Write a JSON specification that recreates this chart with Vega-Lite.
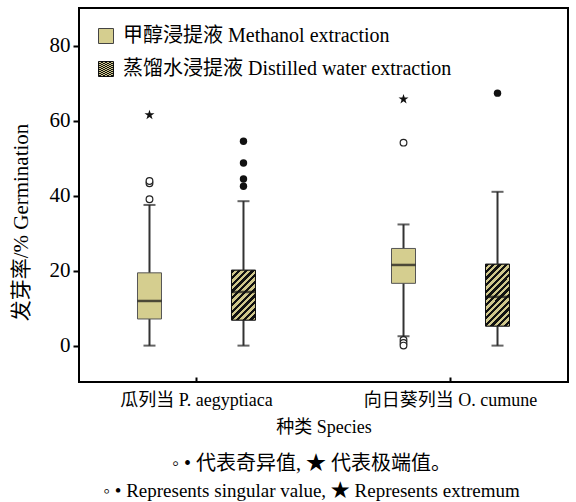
{
  "$schema": "https://vega.github.io/schema/vega-lite/v6.json",
  "width": 489,
  "height": 374,
  "autosize": {"type": "none"},
  "padding": {"left": 79, "top": 8, "right": 8, "bottom": 120},
  "background": "white",
  "config": {
    "view": {"stroke": "black", "strokeWidth": 2},
    "font": "Liberation Serif, Noto Sans CJK SC",
    "axis": {"domain": false, "grid": false, "labelColor": "black", "titleColor": "black", "tickColor": "black", "tickWidth": 2, "titleFontWeight": "normal"},
    "legend": {"orient": "none", "padding": 0, "title": null, "symbolType": "square", "symbolSize": 225, "symbolStrokeWidth": 1, "labelFontSize": 20, "labelColor": "black", "labelLimit": 500, "labelOffset": 7}
  },
  "title": {
    "text": "◦ • 代表奇异值, ★ 代表极端值。",
    "subtitle": "◦ • Represents singular value, ★ Represents extremum",
    "orient": "bottom",
    "anchor": "middle",
    "fontSize": 20,
    "fontWeight": "normal",
    "subtitleFontSize": 19,
    "subtitleFont": "Liberation Serif, Noto Sans CJK SC",
    "color": "black",
    "subtitleColor": "black",
    "offset": 18,
    "subtitlePadding": 8,
    "dx": -12
  },
  "datasets": {
    "stats": [
      {"species": "瓜列当 P. aegyptiaca", "treatment": "甲醇浸提液 Methanol extraction", "lower": 0, "q1": 7.1, "median": 11.9, "q3": 19.4, "upper": 37.5},
      {"species": "瓜列当 P. aegyptiaca", "treatment": "蒸馏水浸提液 Distilled water extraction", "lower": 0, "q1": 6.8, "median": 14.3, "q3": 20.1, "upper": 38.5},
      {"species": "向日葵列当 O. cumune", "treatment": "甲醇浸提液 Methanol extraction", "lower": 2.5, "q1": 16.6, "median": 21.5, "q3": 25.9, "upper": 32.3},
      {"species": "向日葵列当 O. cumune", "treatment": "蒸馏水浸提液 Distilled water extraction", "lower": 0, "q1": 5.2, "median": 13.0, "q3": 21.7, "upper": 41.0}
    ],
    "outliers": [
      {"species": "瓜列当 P. aegyptiaca", "treatment": "甲醇浸提液 Methanol extraction", "value": 39.0, "kind": "open"},
      {"species": "瓜列当 P. aegyptiaca", "treatment": "甲醇浸提液 Methanol extraction", "value": 43.3, "kind": "open"},
      {"species": "瓜列当 P. aegyptiaca", "treatment": "甲醇浸提液 Methanol extraction", "value": 43.9, "kind": "open"},
      {"species": "瓜列当 P. aegyptiaca", "treatment": "甲醇浸提液 Methanol extraction", "value": 61.5, "kind": "star"},
      {"species": "瓜列当 P. aegyptiaca", "treatment": "蒸馏水浸提液 Distilled water extraction", "value": 42.5, "kind": "filled"},
      {"species": "瓜列当 P. aegyptiaca", "treatment": "蒸馏水浸提液 Distilled water extraction", "value": 44.4, "kind": "filled"},
      {"species": "瓜列当 P. aegyptiaca", "treatment": "蒸馏水浸提液 Distilled water extraction", "value": 48.7, "kind": "filled"},
      {"species": "瓜列当 P. aegyptiaca", "treatment": "蒸馏水浸提液 Distilled water extraction", "value": 54.5, "kind": "filled"},
      {"species": "向日葵列当 O. cumune", "treatment": "甲醇浸提液 Methanol extraction", "value": 1.5, "kind": "open"},
      {"species": "向日葵列当 O. cumune", "treatment": "甲醇浸提液 Methanol extraction", "value": 0.7, "kind": "open"},
      {"species": "向日葵列当 O. cumune", "treatment": "甲醇浸提液 Methanol extraction", "value": 0.0, "kind": "open"},
      {"species": "向日葵列当 O. cumune", "treatment": "甲醇浸提液 Methanol extraction", "value": 54.1, "kind": "open"},
      {"species": "向日葵列当 O. cumune", "treatment": "甲醇浸提液 Methanol extraction", "value": 65.7, "kind": "star"},
      {"species": "向日葵列当 O. cumune", "treatment": "蒸馏水浸提液 Distilled water extraction", "value": 67.3, "kind": "filled"}
    ]
  },
  "encoding": {
    "x": {"field": "species", "type": "nominal", "sort": ["瓜列当 P. aegyptiaca", "向日葵列当 O. cumune"],
      "scale": {"type": "band", "paddingInner": 0.2, "paddingOuter": 0.0625},
      "axis": {"title": "种类 Species", "labelAngle": 0, "labelFontSize": 18, "titleFontSize": 18, "tickSize": -5, "tickWidth": 2, "labelPadding": 14, "titlePadding": 9, "labelLimit": 300}},
    "xOffset": {"field": "treatment", "type": "nominal", "sort": ["甲醇浸提液 Methanol extraction", "蒸馏水浸提液 Distilled water extraction"],
      "scale": {"type": "band", "paddingInner": 0, "paddingOuter": 0.081}}
  },
  "layer": [
    {
      "data": {"name": "stats"},
      "mark": {"type": "rule", "strokeWidth": 2, "color": "#333333"},
      "encoding": {
        "y": {"field": "lower", "type": "quantitative",
          "scale": {"domain": [-9.7, 90], "nice": false, "zero": false},
          "axis": {"title": "发芽率/% Germination", "values": [0, 20, 40, 60, 80], "labelFontSize": 21, "titleFontSize": 21, "tickSize": 6, "labelPadding": 3, "titleX": -48, "titleY": 214}},
        "y2": {"field": "upper"}
      }
    },
    {
      "data": {"name": "stats"},
      "mark": {"type": "bar", "size": 24, "stroke": "#555555", "strokeWidth": 1},
      "encoding": {
        "y": {"field": "q1", "type": "quantitative"},
        "y2": {"field": "q3"},
        "fill": {"field": "treatment", "type": "nominal",
          "scale": {"domain": ["甲醇浸提液 Methanol extraction", "蒸馏水浸提液 Distilled water extraction"], "range": ["#d5ce8f", "#111111"]},
          "legend": {"values": ["甲醇浸提液 Methanol extraction"], "legendX": 17, "legendY": 18, "symbolStrokeColor": "#444444"}
        }
      }
    },
    {
      "mark": {"type": "rule", "strokeDash": [3, 6], "color": "#444444", "strokeWidth": 1.5},
      "encoding": {"y": {"datum": 20}}
    },
    {
      "data": {"name": "stats"},
      "transform": [{"filter": "datum.species == '瓜列当 P. aegyptiaca' && datum.treatment == '蒸馏水浸提液 Distilled water extraction'"}],
      "mark": {"type": "bar", "size": 24, "strokeWidth": 1,
        "fill": {"gradient": "linear", "x1": 0, "y1": 0, "x2": 0.5785, "y2": 1.2027, "stops": [{"offset":0,"color":"#111111"},{"offset":0.0455,"color":"#111111"},{"offset":0.0455,"color":"#cfc78c"},{"offset":0.0909,"color":"#cfc78c"},{"offset":0.0909,"color":"#111111"},{"offset":0.1364,"color":"#111111"},{"offset":0.1364,"color":"#cfc78c"},{"offset":0.1818,"color":"#cfc78c"},{"offset":0.1818,"color":"#111111"},{"offset":0.2273,"color":"#111111"},{"offset":0.2273,"color":"#cfc78c"},{"offset":0.2727,"color":"#cfc78c"},{"offset":0.2727,"color":"#111111"},{"offset":0.3182,"color":"#111111"},{"offset":0.3182,"color":"#cfc78c"},{"offset":0.3636,"color":"#cfc78c"},{"offset":0.3636,"color":"#111111"},{"offset":0.4091,"color":"#111111"},{"offset":0.4091,"color":"#cfc78c"},{"offset":0.4545,"color":"#cfc78c"},{"offset":0.4545,"color":"#111111"},{"offset":0.5,"color":"#111111"},{"offset":0.5,"color":"#cfc78c"},{"offset":0.5455,"color":"#cfc78c"},{"offset":0.5455,"color":"#111111"},{"offset":0.5909,"color":"#111111"},{"offset":0.5909,"color":"#cfc78c"},{"offset":0.6364,"color":"#cfc78c"},{"offset":0.6364,"color":"#111111"},{"offset":0.6818,"color":"#111111"},{"offset":0.6818,"color":"#cfc78c"},{"offset":0.7273,"color":"#cfc78c"},{"offset":0.7273,"color":"#111111"},{"offset":0.7727,"color":"#111111"},{"offset":0.7727,"color":"#cfc78c"},{"offset":0.8182,"color":"#cfc78c"},{"offset":0.8182,"color":"#111111"},{"offset":0.8636,"color":"#111111"},{"offset":0.8636,"color":"#cfc78c"},{"offset":0.9091,"color":"#cfc78c"},{"offset":0.9091,"color":"#111111"},{"offset":0.9545,"color":"#111111"},{"offset":0.9545,"color":"#cfc78c"},{"offset":1,"color":"#cfc78c"}]}},
      "encoding": {
        "y": {"field": "q1", "type": "quantitative"},
        "y2": {"field": "q3"},
        "stroke": {"field": "treatment", "type": "nominal", "scale": {"range": ["#111111"]},
          "legend": {"legendX": 17, "legendY": 51, "symbolStrokeColor": "#111111",
            "encode": {"symbols": {"fill": {"value": {"gradient": "linear", "x1": 0, "y1": 0, "x2": 1, "y2": 1, "stops": [{"offset": 0, "color": "#111111"}, {"offset": 0.125, "color": "#111111"}, {"offset": 0.125, "color": "#cfc78c"}, {"offset": 0.25, "color": "#cfc78c"}, {"offset": 0.25, "color": "#111111"}, {"offset": 0.375, "color": "#111111"}, {"offset": 0.375, "color": "#cfc78c"}, {"offset": 0.5, "color": "#cfc78c"}, {"offset": 0.5, "color": "#111111"}, {"offset": 0.625, "color": "#111111"}, {"offset": 0.625, "color": "#cfc78c"}, {"offset": 0.75, "color": "#cfc78c"}, {"offset": 0.75, "color": "#111111"}, {"offset": 0.875, "color": "#111111"}, {"offset": 0.875, "color": "#cfc78c"}, {"offset": 1, "color": "#cfc78c"}]}}}}}
        }
      }
    },
    {
      "data": {"name": "stats"},
      "transform": [{"filter": "datum.species == '向日葵列当 O. cumune' && datum.treatment == '蒸馏水浸提液 Distilled water extraction'"}],
      "mark": {"type": "bar", "size": 24, "stroke": "#111111", "strokeWidth": 1,
        "fill": {"gradient": "linear", "x1": 0, "y1": 0, "x2": 0.4706, "y2": 1.2065, "stops": [{"offset":0,"color":"#111111"},{"offset":0.0385,"color":"#111111"},{"offset":0.0385,"color":"#cfc78c"},{"offset":0.0769,"color":"#cfc78c"},{"offset":0.0769,"color":"#111111"},{"offset":0.1154,"color":"#111111"},{"offset":0.1154,"color":"#cfc78c"},{"offset":0.1538,"color":"#cfc78c"},{"offset":0.1538,"color":"#111111"},{"offset":0.1923,"color":"#111111"},{"offset":0.1923,"color":"#cfc78c"},{"offset":0.2308,"color":"#cfc78c"},{"offset":0.2308,"color":"#111111"},{"offset":0.2692,"color":"#111111"},{"offset":0.2692,"color":"#cfc78c"},{"offset":0.3077,"color":"#cfc78c"},{"offset":0.3077,"color":"#111111"},{"offset":0.3462,"color":"#111111"},{"offset":0.3462,"color":"#cfc78c"},{"offset":0.3846,"color":"#cfc78c"},{"offset":0.3846,"color":"#111111"},{"offset":0.4231,"color":"#111111"},{"offset":0.4231,"color":"#cfc78c"},{"offset":0.4615,"color":"#cfc78c"},{"offset":0.4615,"color":"#111111"},{"offset":0.5,"color":"#111111"},{"offset":0.5,"color":"#cfc78c"},{"offset":0.5385,"color":"#cfc78c"},{"offset":0.5385,"color":"#111111"},{"offset":0.5769,"color":"#111111"},{"offset":0.5769,"color":"#cfc78c"},{"offset":0.6154,"color":"#cfc78c"},{"offset":0.6154,"color":"#111111"},{"offset":0.6538,"color":"#111111"},{"offset":0.6538,"color":"#cfc78c"},{"offset":0.6923,"color":"#cfc78c"},{"offset":0.6923,"color":"#111111"},{"offset":0.7308,"color":"#111111"},{"offset":0.7308,"color":"#cfc78c"},{"offset":0.7692,"color":"#cfc78c"},{"offset":0.7692,"color":"#111111"},{"offset":0.8077,"color":"#111111"},{"offset":0.8077,"color":"#cfc78c"},{"offset":0.8462,"color":"#cfc78c"},{"offset":0.8462,"color":"#111111"},{"offset":0.8846,"color":"#111111"},{"offset":0.8846,"color":"#cfc78c"},{"offset":0.9231,"color":"#cfc78c"},{"offset":0.9231,"color":"#111111"},{"offset":0.9615,"color":"#111111"},{"offset":0.9615,"color":"#cfc78c"},{"offset":1,"color":"#cfc78c"}]}},
      "encoding": {
        "y": {"field": "q1", "type": "quantitative"},
        "y2": {"field": "q3"}
      }
    },
    {
      "data": {"name": "stats"},
      "mark": {"type": "tick", "size": 24, "thickness": 2.5, "color": "#111111"},
      "encoding": {"y": {"field": "median", "type": "quantitative"}}
    },
    {
      "data": {"name": "stats"},
      "mark": {"type": "tick", "size": 12, "thickness": 2, "color": "#222222"},
      "encoding": {"y": {"field": "upper", "type": "quantitative"}}
    },
    {
      "data": {"name": "stats"},
      "mark": {"type": "tick", "size": 12, "thickness": 2, "color": "#222222"},
      "encoding": {"y": {"field": "lower", "type": "quantitative"}}
    },
    {
      "data": {"name": "outliers"},
      "transform": [{"filter": "datum.kind == 'open'"}],
      "mark": {"type": "point", "shape": "circle", "size": 45, "filled": false, "fill": "white", "fillOpacity": 1, "stroke": "#222222", "strokeWidth": 1.2, "opacity": 1},
      "encoding": {"y": {"field": "value", "type": "quantitative"}}
    },
    {
      "data": {"name": "outliers"},
      "transform": [{"filter": "datum.kind == 'filled'"}],
      "mark": {"type": "point", "shape": "circle", "size": 55, "filled": true, "color": "#111111", "opacity": 1},
      "encoding": {"y": {"field": "value", "type": "quantitative"}}
    },
    {
      "data": {"name": "outliers"},
      "transform": [{"filter": "datum.kind == 'star'"}],
      "mark": {"type": "point", "shape": "M0,-1L0.2245,-0.309L0.9511,-0.309L0.3633,0.118L0.5878,0.809L0,0.382L-0.5878,0.809L-0.3633,0.118L-0.9511,-0.309L-0.2245,-0.309Z", "size": 110, "filled": true, "color": "#111111", "opacity": 1},
      "encoding": {"y": {"field": "value", "type": "quantitative"}}
    }
  ]
}
